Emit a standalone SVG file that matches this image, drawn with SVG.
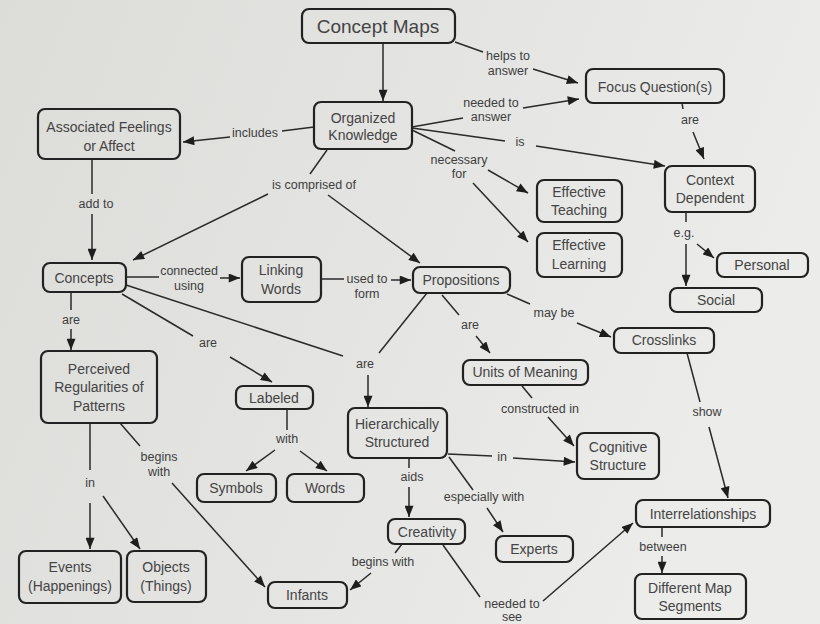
<svg xmlns="http://www.w3.org/2000/svg" width="820" height="624" viewBox="0 0 820 624">
<defs>
<linearGradient id="bg" x1="0" y1="0" x2="1" y2="0.3">
<stop offset="0" stop-color="#dcdcd9"/>
<stop offset="0.6" stop-color="#e5e5e3"/>
<stop offset="1" stop-color="#ececea"/>
</linearGradient>
<marker id="ah" viewBox="0 0 10 8" refX="10" refY="4" markerWidth="12" markerHeight="9" markerUnits="userSpaceOnUse" orient="auto">
<path d="M0,0 L10,4 L0,8 z" fill="#1e1e1e"/>
</marker>
<style>
.n rect{fill:none;stroke:#222;stroke-width:2.2}
.n text{font-family:"Liberation Sans",Arial,sans-serif;font-size:14px;fill:#444;text-anchor:middle}
#links line{stroke:#2a2a2a;stroke-width:1.5;fill:none}
#links line.a{marker-end:url(#ah)}
#links text{font-family:"Liberation Sans",Arial,sans-serif;font-size:12.5px;fill:#3e3e3e;text-anchor:middle}
</style>
</defs>
<rect width="820" height="624" fill="url(#bg)"/>

<g id="links">
<line class="a" x1="383" y1="43" x2="383" y2="101"/>
<line x1="455" y1="42" x2="483" y2="52"/>
<text x="508" y="60">helps to</text>
<text x="508" y="75">answer</text>
<line class="a" x1="533" y1="69" x2="578" y2="83"/>
<line x1="412" y1="127" x2="463" y2="118"/>
<text x="491" y="107">needed to</text>
<text x="491" y="121">answer</text>
<line class="a" x1="523" y1="108" x2="579" y2="99"/>
<line x1="412" y1="128" x2="505" y2="141"/>
<text x="520" y="146">is</text>
<line class="a" x1="536" y1="146" x2="665" y2="166"/>
<line x1="412" y1="130" x2="455" y2="151"/>
<text x="459" y="164">necessary</text>
<text x="459" y="178">for</text>
<line class="a" x1="488" y1="170" x2="528" y2="193"/>
<line class="a" x1="473" y1="183" x2="528" y2="242"/>
<line x1="314" y1="127" x2="282" y2="131"/>
<text x="255" y="137">includes</text>
<line class="a" x1="230" y1="137" x2="183" y2="142"/>
<line x1="327" y1="150" x2="310" y2="174"/>
<text x="314" y="189">is comprised of</text>
<line class="a" x1="268" y1="194" x2="133" y2="260"/>
<line class="a" x1="328" y1="195" x2="420" y2="263"/>
<line x1="92" y1="159" x2="92" y2="194"/>
<text x="96" y="208">add to</text>
<line class="a" x1="92" y1="214" x2="92" y2="260"/>
<line x1="126" y1="277" x2="159" y2="277"/>
<text x="189" y="275">connected</text>
<text x="189" y="290">using</text>
<line class="a" x1="220" y1="278" x2="240" y2="278"/>
<line x1="321" y1="279" x2="344" y2="279"/>
<text x="367" y="283">used to</text>
<text x="367" y="298">form</text>
<line class="a" x1="391" y1="280" x2="411" y2="280"/>
<line x1="71" y1="292" x2="71" y2="310"/>
<text x="71" y="324">are</text>
<line class="a" x1="71" y1="329" x2="71" y2="350"/>
<line x1="122" y1="294" x2="193" y2="336"/>
<text x="208" y="347">are</text>
<line class="a" x1="230" y1="357" x2="272" y2="382"/>
<line x1="126" y1="285" x2="343" y2="356"/>
<line x1="427" y1="293" x2="379" y2="353"/>
<text x="365" y="368">are</text>
<line class="a" x1="368" y1="375" x2="368" y2="407"/>
<line x1="442" y1="295" x2="459" y2="315"/>
<text x="470" y="329">are</text>
<line class="a" x1="476" y1="336" x2="490" y2="353"/>
<line x1="507" y1="294" x2="530" y2="304"/>
<text x="554" y="317">may be</text>
<line class="a" x1="577" y1="323" x2="611" y2="337"/>
<line x1="687" y1="353" x2="700" y2="402"/>
<text x="707" y="416">show</text>
<line class="a" x1="709" y1="427" x2="728" y2="498"/>
<line x1="686" y1="212" x2="686" y2="222"/>
<text x="684" y="237">e.g.</text>
<line class="a" x1="686" y1="244" x2="686" y2="286"/>
<line class="a" x1="697" y1="244" x2="714" y2="258"/>
<line x1="682" y1="103" x2="683" y2="109"/>
<text x="690" y="124">are</text>
<line class="a" x1="693" y1="132" x2="704" y2="159"/>
<line x1="522" y1="386" x2="532" y2="398"/>
<text x="540" y="413">constructed in</text>
<line class="a" x1="548" y1="417" x2="574" y2="446"/>
<line x1="448" y1="454" x2="492" y2="456"/>
<text x="502" y="461">in</text>
<line class="a" x1="513" y1="458" x2="575" y2="462"/>
<line x1="409" y1="458" x2="409" y2="468"/>
<text x="412" y="481">aids</text>
<line class="a" x1="409" y1="487" x2="409" y2="517"/>
<line x1="449" y1="457" x2="473" y2="490"/>
<text x="484" y="501">especially with</text>
<line class="a" x1="487" y1="508" x2="503" y2="532"/>
<line x1="287" y1="409" x2="287" y2="430"/>
<text x="287" y="443">with</text>
<line class="a" x1="275" y1="450" x2="246" y2="471"/>
<line class="a" x1="300" y1="451" x2="327" y2="471"/>
<line x1="90" y1="423" x2="90" y2="470"/>
<text x="90" y="487">in</text>
<line class="a" x1="90" y1="503" x2="90" y2="549"/>
<line class="a" x1="103" y1="496" x2="140" y2="549"/>
<line x1="120" y1="423" x2="140" y2="446"/>
<text x="159" y="461">begins</text>
<text x="159" y="476">with</text>
<line class="a" x1="172" y1="483" x2="265" y2="587"/>
<line x1="402" y1="544" x2="395" y2="553"/>
<text x="383" y="566">begins with</text>
<line class="a" x1="371" y1="573" x2="350" y2="590"/>
<line x1="443" y1="545" x2="480" y2="597"/>
<text x="512" y="608">needed to</text>
<text x="512" y="621">see</text>
<line class="a" x1="543" y1="601" x2="633" y2="523"/>
<line x1="662" y1="527" x2="662" y2="537"/>
<text x="663" y="551">between</text>
<line class="a" x1="662" y1="556" x2="662" y2="573"/>
</g>

<g id="n-concept-maps" class="n"><rect x="302" y="9" width="153" height="34" rx="7"/><text x="378" y="33" style="font-size:19px">Concept Maps</text></g>
<g id="n-organized-knowledge" class="n"><rect x="314" y="102" width="98" height="47" rx="7"/><text x="363" y="123">Organized</text><text x="363" y="140">Knowledge</text></g>
<g id="n-associated-feelings" class="n"><rect x="38" y="109" width="142" height="50" rx="7"/><text x="109" y="132">Associated Feelings</text><text x="109" y="151">or Affect</text></g>
<g id="n-focus-questions" class="n"><rect x="586" y="69" width="138" height="34" rx="7"/><text x="655" y="92">Focus Question(s)</text></g>
<g id="n-context-dependent" class="n"><rect x="665" y="166" width="90" height="46" rx="7"/><text x="710" y="185">Context</text><text x="710" y="203">Dependent</text></g>
<g id="n-effective-teaching" class="n"><rect x="537" y="180" width="85" height="42" rx="7"/><text x="579" y="197">Effective</text><text x="579" y="215">Teaching</text></g>
<g id="n-effective-learning" class="n"><rect x="537" y="233" width="85" height="44" rx="7"/><text x="579" y="250">Effective</text><text x="579" y="269">Learning</text></g>
<g id="n-personal" class="n"><rect x="717" y="253" width="91" height="24" rx="7"/><text x="762" y="270">Personal</text></g>
<g id="n-social" class="n"><rect x="670" y="288" width="92" height="24" rx="7"/><text x="716" y="305">Social</text></g>
<g id="n-crosslinks" class="n"><rect x="614" y="328" width="100" height="25" rx="7"/><text x="664" y="345">Crosslinks</text></g>
<g id="n-propositions" class="n"><rect x="413" y="267" width="97" height="26" rx="7"/><text x="461" y="285">Propositions</text></g>
<g id="n-units-of-meaning" class="n"><rect x="463" y="360" width="125" height="25" rx="7"/><text x="525" y="377">Units of Meaning</text></g>
<g id="n-concepts" class="n"><rect x="43" y="263" width="83" height="29" rx="7"/><text x="84" y="283">Concepts</text></g>
<g id="n-linking-words" class="n"><rect x="242" y="257" width="79" height="45" rx="7"/><text x="281" y="275">Linking</text><text x="281" y="294">Words</text></g>
<g id="n-perceived-regularities" class="n"><rect x="41" y="351" width="116" height="72" rx="7"/><text x="99" y="374">Perceived</text><text x="99" y="392">Regularities of</text><text x="99" y="411">Patterns</text></g>
<g id="n-labeled" class="n"><rect x="236" y="386" width="77" height="23" rx="7"/><text x="274" y="403">Labeled</text></g>
<g id="n-hierarchically-structured" class="n"><rect x="348" y="408" width="99" height="50" rx="7"/><text x="397" y="429">Hierarchically</text><text x="397" y="447">Structured</text></g>
<g id="n-cognitive-structure" class="n"><rect x="577" y="433" width="82" height="46" rx="7"/><text x="618" y="452">Cognitive</text><text x="618" y="470">Structure</text></g>
<g id="n-symbols" class="n"><rect x="197" y="474" width="79" height="28" rx="7"/><text x="236" y="493">Symbols</text></g>
<g id="n-words" class="n"><rect x="287" y="474" width="77" height="28" rx="7"/><text x="325" y="493">Words</text></g>
<g id="n-creativity" class="n"><rect x="388" y="519" width="77" height="25" rx="7"/><text x="427" y="537">Creativity</text></g>
<g id="n-experts" class="n"><rect x="496" y="536" width="77" height="26" rx="7"/><text x="534" y="554">Experts</text></g>
<g id="n-interrelationships" class="n"><rect x="636" y="500" width="134" height="27" rx="7"/><text x="703" y="519">Interrelationships</text></g>
<g id="n-different-map-segments" class="n"><rect x="635" y="574" width="111" height="45" rx="7"/><text x="690" y="593">Different Map</text><text x="690" y="611">Segments</text></g>
<g id="n-events" class="n"><rect x="19" y="551" width="102" height="52" rx="7"/><text x="70" y="572">Events</text><text x="70" y="591">(Happenings)</text></g>
<g id="n-objects" class="n"><rect x="127" y="551" width="79" height="51" rx="7"/><text x="166" y="572">Objects</text><text x="166" y="591">(Things)</text></g>
<g id="n-infants" class="n"><rect x="268" y="582" width="79" height="26" rx="7"/><text x="307" y="600">Infants</text></g>
</svg>
